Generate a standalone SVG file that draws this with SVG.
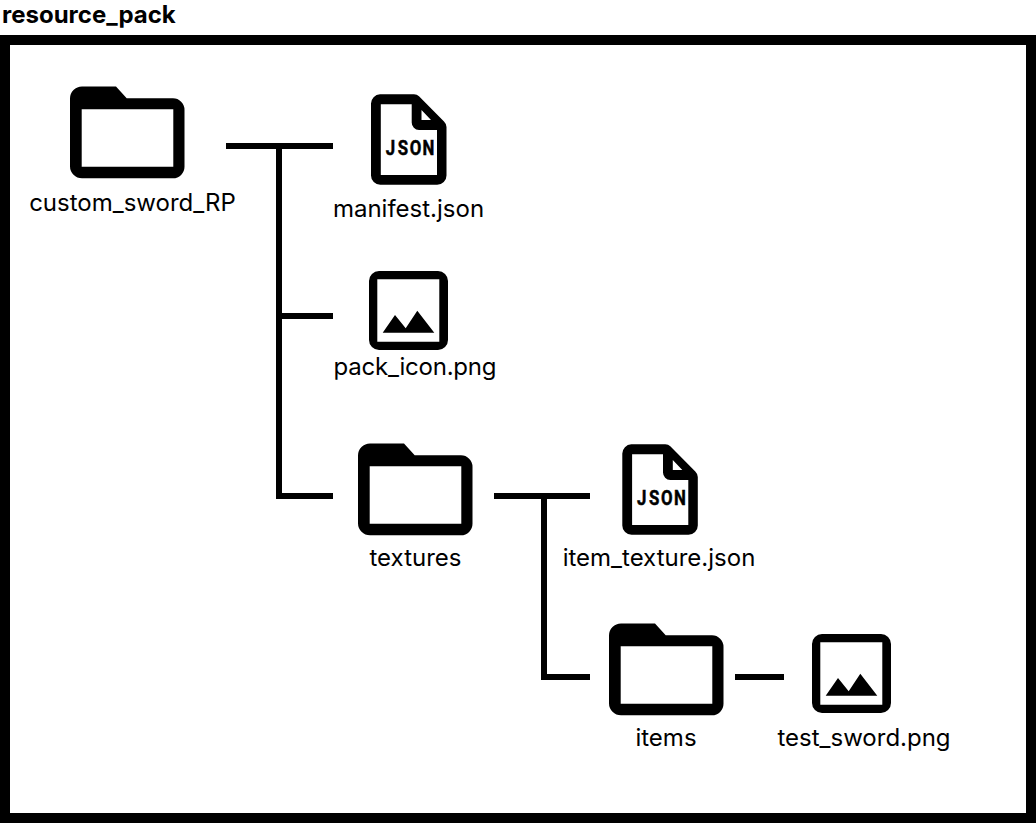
<svg xmlns="http://www.w3.org/2000/svg" width="1036" height="823" viewBox="0 0 1036 823">
<style>
text{font-family:Inter,"Liberation Sans",sans-serif;fill:#000}
.t{font-size:24px;font-weight:700}
.l{font-size:24px;text-anchor:middle}
.j{font-family:Roboto,"Liberation Sans",sans-serif;font-size:21px;font-weight:700;stroke:#000;stroke-width:.5}
.c{fill:none;stroke:#000;stroke-width:6}
</style>
<defs>
<symbol id="folder" overflow="visible">
<path fill-rule="evenodd" d="M82 86.500H116L126.700 98.300H173A11.500 11.500 0 0 1 184.500 109.800V166.800A11.500 11.500 0 0 1 173 178.300H82A12 12 0 0 1 70 166.300V98.500A12 12 0 0 1 82 86.500ZM81.700 109.300V166.700H173.300V109.300Z"/>
</symbol>
<symbol id="file" overflow="visible">
<path fill-rule="evenodd" d="M380 94.300H414Q417 94.300 419 96.300L444 121.500Q446.500 124 446.500 127V175.500A9.300 9.300 0 0 1 437.200 184.800H380.300A9.300 9.300 0 0 1 371 175.500V103.600A9.300 9.300 0 0 1 380 94.300ZM380.800 104.300V175H437V130H419A7.500 7.500 0 0 1 411.700 122.500V104.300ZM421.500 110V120H431Z"/>
</symbol>
<symbol id="image" overflow="visible">
<path fill-rule="evenodd" d="M379 271H438A10 10 0 0 1 448 281V340A10 10 0 0 1 438 350H379A10 10 0 0 1 369 340V281A10 10 0 0 1 379 271ZM377.300 279.300V341.700H439.300V279.300Z"/>
<path d="M382.700 332.700L395 315L405.700 328.300L417.300 310.700L434.300 332.700Z"/>
</symbol>
</defs>
<rect x="5" y="40" width="1026" height="778" fill="#fff" stroke="#000" stroke-width="10"/>
<text class="t" x="2" y="23">resource_pack</text>
<g id="connectors">
<path class="c" d="M226 146H333M279 146V496H333M279 316H333"/>
<path class="c" d="M494 496H590M544 496V677H590"/>
<path class="c" d="M735 677H784"/>
</g>
<g id="custom_sword_RP"><use href="#folder"/><text class="l" x="132.500" y="211">custom_sword_RP</text></g>
<g id="manifest_json"><use href="#file"/><text class="j" transform="translate(385.800 155) scale(.8 1)" x="0 15 30 46">JSON</text><text class="l" x="408.500" y="217">manifest.json</text></g>
<g id="pack_icon_png"><use href="#image"/><text class="l" x="415" y="375" textLength="163">pack_icon.png</text></g>
<g id="textures"><use href="#folder" x="288" y="357"/><text class="l" x="415.500" y="566">textures</text></g>
<g id="item_texture_json"><use href="#file" x="251.300" y="350"/><text class="j" transform="translate(637.100 505) scale(.8 1)" x="0 15 30 46">JSON</text><text class="l" x="659" y="566">item_texture.json</text></g>
<g id="items"><use href="#folder" x="539" y="537"/><text class="l" x="666" y="746">items</text></g>
<g id="test_sword_png"><use href="#image" x="443" y="363"/><text class="l" x="864" y="746">test_sword.png</text></g>
</svg>
